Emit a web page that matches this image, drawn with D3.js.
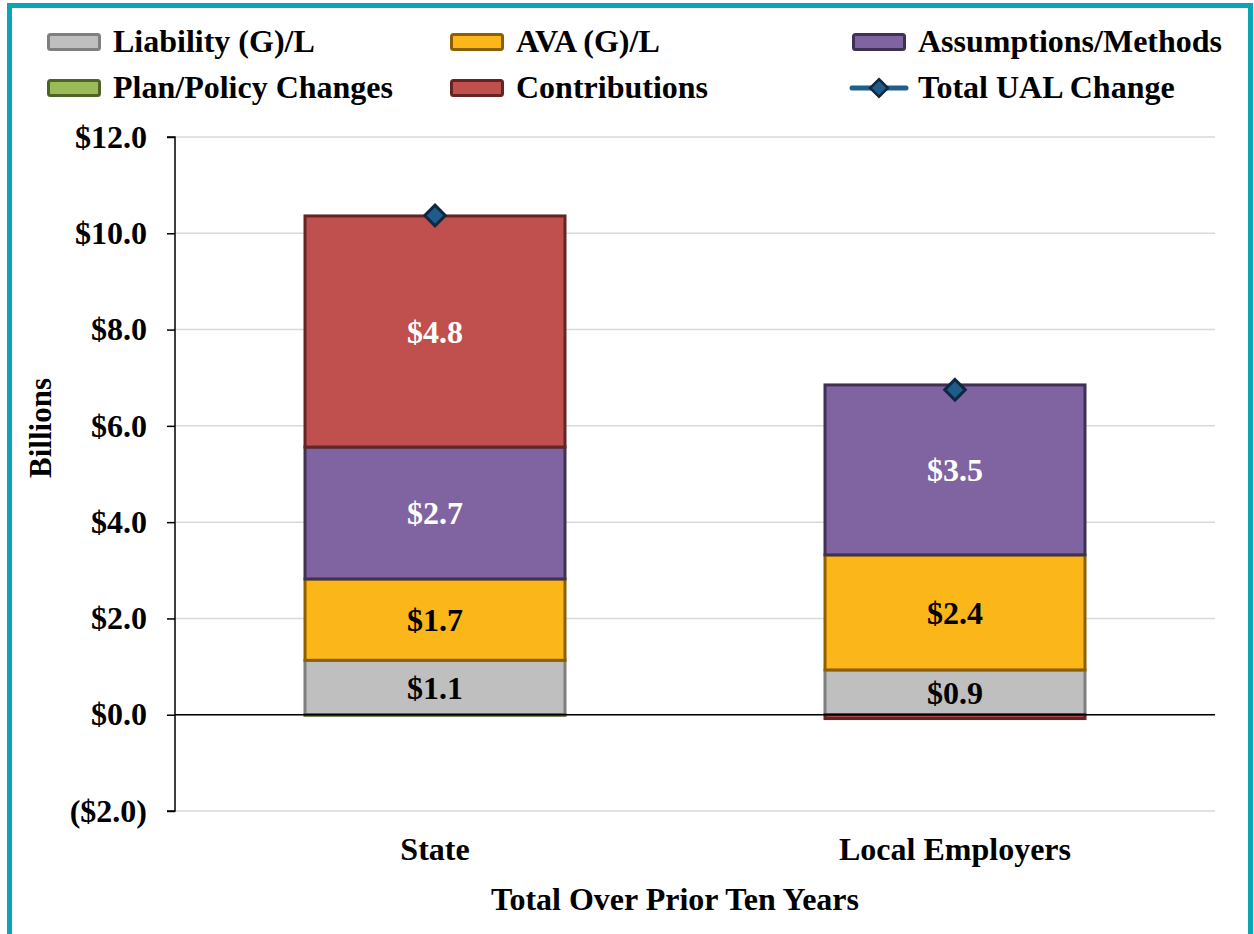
<!DOCTYPE html>
<html>
<head>
<meta charset="utf-8">
<script src="https://cdn.jsdelivr.net/npm/d3@7"></script>
<style>
  body { margin: 0; background: #fff; }
  svg text { font-family: "Liberation Serif", "Times New Roman", serif; font-weight: bold; }
</style>
</head>
<body>
<div id="chart"></div>
<script>
var w = 1254,
    h = 934;

// data (billions)
var categories = ["State", "Local Employers"];
var seriesNames = ["Liability (G)/L", "AVA (G)/L", "Assumptions/Methods", "Plan/Policy Changes", "Contributions"];
var liability = [1.13, 0.93];
var ava = [1.69, 2.39];
var assumptions = [2.74, 3.53];
var planPolicy = [-0.01, 0.0];
var contributions = [4.80, -0.08];
var totalChange = [10.37, 6.75];
var yTicks = [-2, 0, 2, 4, 6, 8, 10, 12];

var palette = {
    liability: { fill: '#BFBFBF', stroke: '#7F7F7F', text: '#000' },
    ava: { fill: '#FBB619', stroke: '#8C6000', text: '#000' },
    assumptions: { fill: '#8064A2', stroke: '#3F3151', text: '#fff' },
    plan: { fill: '#9BBB59', stroke: '#4F6228', text: '#000' },
    contributions: { fill: '#C0504D', stroke: '#632523', text: '#fff' },
    total: { line: '#1F5F8B', fill: '#1F5C8B', stroke: '#0F2740' }
}

var series = [
    { key: 'liability', name: seriesNames[0], values: liability },
    { key: 'ava', name: seriesNames[1], values: ava },
    { key: 'assumptions', name: seriesNames[2], values: assumptions },
    { key: 'plan', name: seriesNames[3], values: planPolicy },
    { key: 'contributions', name: seriesNames[4], values: contributions }
]

var margin = { left: 175, right: 1215, top: 137, bottom: 811 }

var svg = d3.select('#chart')
    .append('svg')
    .attr('width', w)
    .attr('height', h)

// teal frame
svg.append('rect')
    .attr('x', 9.5).attr('y', 5.5)
    .attr('width', 1241).attr('height', 940)
    .attr('fill', 'none')
    .attr('stroke', '#0AA5B5')
    .attr('stroke-width', 5)

var x = d3.scaleBand()
    .domain(categories)
    .range([margin.left, margin.right])
    .paddingInner(0.5)
    .paddingOuter(0.25)

var y = d3.scaleLinear()
    .domain([-2, 12])
    .range([margin.bottom, margin.top])

// gridlines
svg.append('g')
    .selectAll('line')
    .data(yTicks).enter().append('line')
    .attr('x1', margin.left).attr('x2', margin.right)
    .attr('y1', function(d) { return y(d) }).attr('y2', function(d) { return y(d) })
    .attr('stroke', '#D9D9D9')
    .attr('stroke-width', 1.5)

// stacked bars (positive and negative stacked separately)
var stacks = categories.map(function(c, i) {
    var pos = 0, neg = 0;
    return series.map(function(s) {
        var v = s.values[i], y0, y1;
        if (v >= 0) { y0 = pos; pos += v; y1 = pos; }
        else { y0 = neg; neg += v; y1 = neg; }
        return { cat: c, key: s.key, v: v, y0: y0, y1: y1 }
    })
})

var segs = [].concat.apply([], stacks).filter(function(d) { return d.v !== 0 })

svg.append('g')
    .selectAll('rect')
    .data(segs).enter().append('rect')
    .attr('x', function(d) { return x(d.cat) })
    .attr('width', x.bandwidth())
    .attr('y', function(d) { return y(Math.max(d.y0, d.y1)) })
    .attr('height', function(d) { return Math.max(0.5, Math.abs(y(d.y0) - y(d.y1))) })
    .attr('fill', function(d) { return palette[d.key].fill })
    .attr('stroke', function(d) { return palette[d.key].stroke })
    .attr('stroke-width', 3)

// zero line
svg.append('line')
    .attr('x1', margin.left).attr('x2', margin.right)
    .attr('y1', y(0)).attr('y2', y(0))
    .attr('stroke', '#000')
    .attr('stroke-width', 1.5)

// data labels
svg.append('g')
    .selectAll('text')
    .data(segs.filter(function(d) { return Math.abs(d.v) >= 0.5 }))
    .enter().append('text')
    .attr('x', function(d) { return x(d.cat) + x.bandwidth() / 2 })
    .attr('y', function(d) { return y((d.y0 + d.y1) / 2) })
    .attr('dy', '0.35em')
    .attr('text-anchor', 'middle')
    .attr('font-size', '32px')
    .attr('fill', function(d) { return palette[d.key].text })
    .text(function(d) { return '$' + d.v.toFixed(1) })

// total markers
svg.append('g')
    .selectAll('path')
    .data(totalChange).enter().append('path')
    .attr('d', d3.symbol().type(d3.symbolDiamond2).size(270))
    .attr('transform', function(d, i) {
        return 'translate(' + (x(categories[i]) + x.bandwidth() / 2) + ',' + y(d) + ')'
    })
    .attr('fill', palette.total.fill)
    .attr('stroke', palette.total.stroke)
    .attr('stroke-width', 3)

// y axis
var yAxis = d3.axisLeft(y)
    .tickValues(yTicks)
    .tickSize(8)
    .tickPadding(20)
    .tickFormat(function(d) {
        return d < 0 ? '($' + Math.abs(d).toFixed(1) + ')' : '$' + d.toFixed(1)
    })

var ya = svg.append('g')
    .attr('transform', 'translate(' + margin.left + ',0)')
    .call(yAxis)
ya.select('.domain').attr('stroke', '#000').attr('stroke-width', 1.5).attr('d', 'M-8,' + y(-2) + 'H0V' + y(12) + 'H-8')
ya.selectAll('.tick line').attr('stroke', '#000').attr('stroke-width', 1.5)
ya.selectAll('.tick text')
    .attr('font-size', '32px')
    .attr('font-family', '"Liberation Serif", serif')
    .attr('font-weight', 'bold')
    .attr('fill', '#000')

// category labels
svg.append('g')
    .selectAll('text')
    .data(categories).enter().append('text')
    .attr('x', function(d) { return x(d) + x.bandwidth() / 2 })
    .attr('y', 860)
    .attr('text-anchor', 'middle')
    .attr('font-size', '32px')
    .text(function(d) { return d })

// axis titles
svg.append('text')
    .attr('x', 675).attr('y', 910)
    .attr('text-anchor', 'middle')
    .attr('font-size', '32px')
    .text('Total Over Prior Ten Years')

svg.append('text')
    .attr('transform', 'translate(51,428) rotate(-90)')
    .attr('text-anchor', 'middle')
    .attr('font-size', '31px')
    .text('Billions')

// legend
var legendItems = [
    { key: 'liability', name: seriesNames[0], col: 0, row: 0 },
    { key: 'ava', name: seriesNames[1], col: 1, row: 0 },
    { key: 'assumptions', name: seriesNames[2], col: 2, row: 0 },
    { key: 'plan', name: seriesNames[3], col: 0, row: 1 },
    { key: 'contributions', name: seriesNames[4], col: 1, row: 1 },
    { key: 'total', name: 'Total UAL Change', col: 2, row: 1 }
]
var colX = [47, 450, 852],
    rowY = [42, 88]

var lg = svg.append('g')
    .selectAll('g')
    .data(legendItems).enter().append('g')
    .attr('transform', function(d) { return 'translate(' + colX[d.col] + ',' + rowY[d.row] + ')' })

lg.filter(function(d) { return d.key !== 'total' })
    .append('rect')
    .attr('x', 1.5).attr('y', -7.5)
    .attr('width', 51).attr('height', 15)
    .attr('rx', 2)
    .attr('fill', function(d) { return palette[d.key].fill })
    .attr('stroke', function(d) { return palette[d.key].stroke })
    .attr('stroke-width', 3)

var tl = lg.filter(function(d) { return d.key === 'total' })
tl.append('line')
    .attr('x1', 0).attr('x2', 54)
    .attr('y1', 0).attr('y2', 0)
    .attr('stroke', palette.total.line)
    .attr('stroke-width', 5)
    .attr('stroke-linecap', 'round')
tl.append('path')
    .attr('d', d3.symbol().type(d3.symbolDiamond2).size(200))
    .attr('transform', 'translate(27,0)')
    .attr('fill', palette.total.fill)
    .attr('stroke', palette.total.stroke)
    .attr('stroke-width', 2.5)

lg.append('text')
    .attr('x', 66)
    .attr('y', -1)
    .attr('dy', '0.35em')
    .attr('font-size', '32px')
    .text(function(d) { return d.name })
</script>
</body>
</html>
